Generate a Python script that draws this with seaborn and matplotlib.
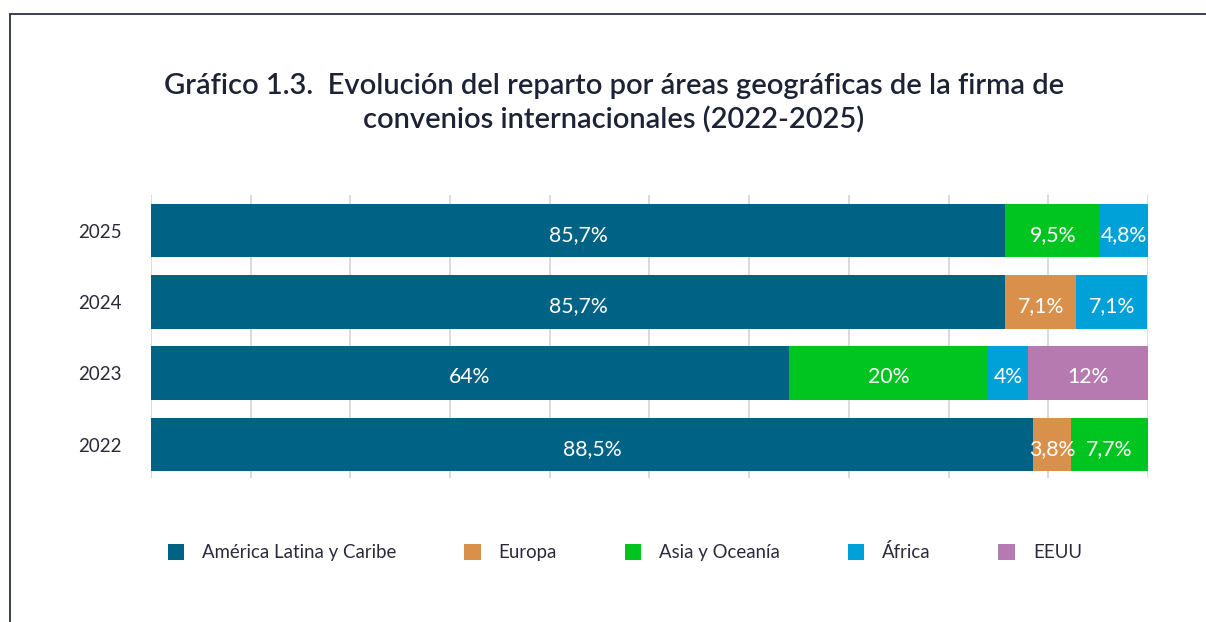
import matplotlib
matplotlib.use("Agg")
import matplotlib.pyplot as plt
import numpy as np
import pandas as pd
import seaborn as sns
from matplotlib.lines import Line2D
from matplotlib.patches import Patch

# Data
years = ["2022", "2023", "2024", "2025"]
areas = ["América Latina y Caribe", "Europa", "Asia y Oceanía", "África", "EEUU"]
america = [88.5, 64.0, 85.7, 85.7]
europa = [3.8, 0.0, 7.1, 0.0]
asia = [7.7, 20.0, 0.0, 9.5]
africa = [0.0, 4.0, 7.1, 4.8]
eeuu = [0.0, 12.0, 0.0, 0.0]
colors = ["#006284", "#d9904a", "#00c41f", "#00a0d8", "#b77ab0"]

title = ("Gráfico 1.3.  Evolución del reparto por áreas geográficas de la firma de\n"
         "convenios internacionales (2022-2025)")

sns.set_theme(style="white")
plt.rcParams["font.family"] = ["Lato", "DejaVu Sans"]

df = pd.DataFrame({"year": years, areas[0]: america, areas[1]: europa,
                   areas[2]: asia, areas[3]: africa, areas[4]: eeuu})


def fmt_pct(v):
    if v == 0:
        return ""
    if float(v).is_integer():
        return f"{int(v)}%"
    return f"{v:.1f}%".replace(".", ",")


fig = plt.figure(figsize=(12.06, 6.22), dpi=100)
ax = fig.add_axes([0.1252, 0.2315, 0.8267, 0.455])

ypos = np.arange(len(years))
left = np.zeros(len(years))
for area, color in zip(areas, colors):
    vals = df[area].to_numpy()
    ax.barh(ypos, vals, left=left, height=0.75, color=color,
            edgecolor="none", zorder=2)
    for y, l, v in zip(ypos, left, vals):
        if v > 0:
            ax.annotate(fmt_pct(v), (l + v / 2, y), xytext=(0, -3),
                        textcoords="offset points", ha="center", va="center",
                        color="white", fontsize=15.3, zorder=3)
    left += vals

ax.set_xlim(0, 100)
ax.set_ylim(-0.47, 3.5)
ax.set_xticks(np.arange(0, 101, 10))
ax.set_xticklabels([])
ax.set_yticks(ypos)
ax.set_yticklabels(years, fontsize=13.5, color="#2a2a3a")
ax.tick_params(axis="y", length=0, pad=21)
ax.tick_params(axis="x", length=0)
ax.grid(axis="x", color="#d4d4d4", linewidth=1.2, zorder=0)
ax.grid(axis="y", visible=False)
for s in ax.spines.values():
    s.set_visible(False)

fig.text(0.509, 0.834, title, ha="center", va="center", fontsize=21,
         fontweight="semibold", color="#1e2235", linespacing=1.3)

handles = [Patch(facecolor=c, edgecolor="none") for c in colors]
fig.legend(handles, areas, loc="center", bbox_to_anchor=(0.518, 0.112), ncol=5,
           frameon=False, fontsize=13.4, handlelength=0.9, handleheight=0.9,
           handletextpad=0.95, columnspacing=3.64, labelcolor="#2a2a3a")

# outer frame (top and left edges)
fig.add_artist(Line2D([10 / 1206, 1], [1 - 14 / 622, 1 - 14 / 622],
                      transform=fig.transFigure, color="#2b2f45", linewidth=1.3))
fig.add_artist(Line2D([10 / 1206, 10 / 1206], [0, 1 - 14 / 622],
                      transform=fig.transFigure, color="#2b2f45", linewidth=1.3))

fig.savefig("out.png", dpi=100)
plt.close(fig)
